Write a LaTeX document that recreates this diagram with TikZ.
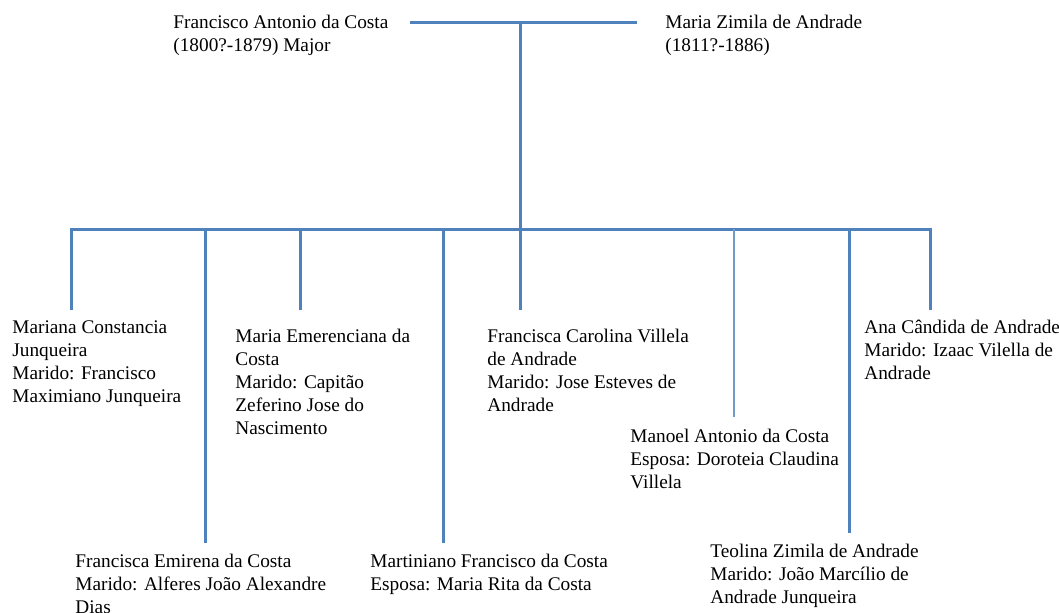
\documentclass[tikz,border=0pt]{standalone}
\usepackage{fontspec}
\setmainfont{Liberation Serif}
\definecolor{kinblue}{HTML}{4F81BD}
\tikzset{
  kin/.style={draw=kinblue,line width=1.5pt},
  kinthin/.style={draw=kinblue!80,line width=1pt},
  person/.style={anchor=north west,inner sep=0pt,align=left,
    font=\fontsize{9.65}{11.5}\selectfont}
}
\begin{document}
\begin{tikzpicture}[x=0.5pt,y=-0.5pt]
\useasboundingbox (0,0) rectangle (1059,612);
% parents
\node[person] (father) at (173,15) {Francisco Antonio da Costa\\(1800?-1879) Major};
\node[person] (mother) at (665,15) {Maria Zimila de Andrade\\(1811?-1886)};
\coordinate (wl) at (410,22);
\coordinate (wr) at (637,22);
\coordinate (top) at (520,22);
\coordinate (bar) at (520,229);
\draw[kin] (wl) -- (wr);
\draw[kin] (top) -- (bar);
% children
\node[person] (mariana) at (12,320) {Mariana Constancia\\Junqueira\\Marido: Francisco\\Maximiano Junqueira};
\node[person] (emirena) at (75,554) {Francisca Emirena da Costa\\Marido: Alferes João Alexandre\\Dias};
\node[person] (emerenciana) at (235,329) {Maria Emerenciana da\\Costa\\Marido: Capitão\\Zeferino Jose do\\Nascimento};
\node[person] (martiniano) at (370,554) {Martiniano Francisco da Costa\\Esposa: Maria Rita da Costa};
\node[person] (carolina) at (487,329) {Francisca Carolina Villela\\de Andrade\\Marido: Jose Esteves de\\Andrade};
\node[person] (manoel) at (630,429) {Manoel Antonio da Costa\\Esposa: Doroteia Claudina\\Villela};
\node[person] (teolina) at (710,544) {Teolina Zimila de Andrade\\Marido: João Marcílio de\\Andrade Junqueira};
\node[person] (ana) at (864,320) {Ana Cândida de Andrade\\Marido: Izaac Vilella de\\Andrade};
% drop ends
\coordinate (d1) at (71,310);
\coordinate (d2) at (205,543);
\coordinate (d3) at (300,310);
\coordinate (d4) at (443,543);
\coordinate (d5) at (520,310);
\coordinate (d6) at (734,417);
\coordinate (d7) at (849,533);
\coordinate (d8) at (930,310);
\draw[kin] (d1) |- (bar) -| (d8);
\foreach \d in {d2,d3,d4,d5,d7}
  \draw[kin] (bar -| \d) -- (\d);
\draw[kinthin] (bar -| d6) -- (d6);
\end{tikzpicture}
\end{document}
